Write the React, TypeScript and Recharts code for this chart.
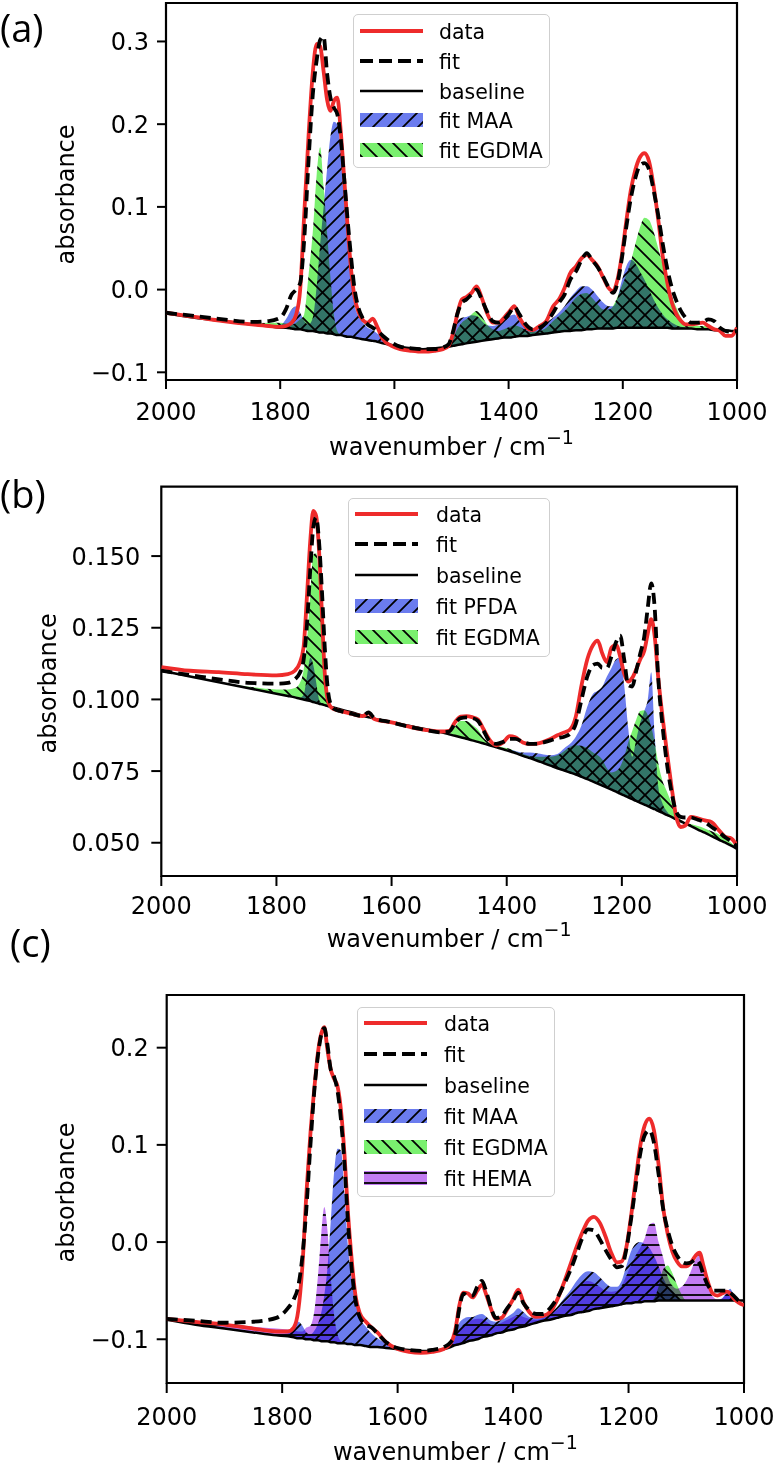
import React from "react";
import {
  ComposedChart,
  Line,
  Area,
  XAxis,
  YAxis,
  ReferenceArea,
  Legend,
} from "recharts";

// matplotlib-like look: DejaVu text, red data, dashed black fit, hatched components
const FONT = "'DejaVu Sans', Verdana, sans-serif";
const COLORS = {
  data: "#ee2b2b",
  line: "#000000",
  blue: "#6b7cee",
  green: "#7af06f",
  purple: "#c27cf2",
  legendEdge: "#cfcfcf",
};

const X_TICKS = [2000, 1800, 1600, 1400, 1200, 1000];

// ============================================================================
// PANEL (a) - MAA / EGDMA
// ============================================================================

const waveA = [
  2000, 1950, 1900, 1850, 1820, 1800, 1790, 1780, 1772, 1765,
  1758, 1750, 1743, 1736, 1730, 1724, 1718, 1712, 1706, 1700,
  1694, 1688, 1682, 1676, 1670, 1663, 1655, 1647, 1638, 1630,
  1620, 1605, 1590, 1570, 1550, 1530, 1515, 1505, 1497, 1490,
  1482, 1474, 1465, 1456, 1447, 1438, 1428, 1418, 1408, 1398,
  1390, 1381, 1370, 1358, 1346, 1334, 1322, 1312, 1302, 1292,
  1282, 1272, 1263, 1254, 1244, 1234, 1225, 1217, 1210, 1202,
  1194, 1186, 1178, 1170, 1162, 1154, 1146, 1138, 1130, 1122,
  1114, 1106, 1098, 1090, 1080, 1070, 1060, 1050, 1040, 1030,
  1020, 1010, 1000,
];
const measuredA = [
  -0.028, -0.033, -0.038, -0.042, -0.044, -0.045, -0.044, -0.040, -0.030, 0.000,
  0.090, 0.190, 0.262, 0.297, 0.294, 0.264, 0.230, 0.216, 0.228, 0.232,
  0.192, 0.135, 0.077, 0.025, -0.008, -0.027, -0.037, -0.040, -0.035, -0.045,
  -0.060, -0.068, -0.072, -0.074, -0.075, -0.074, -0.072, -0.068, -0.052, -0.030,
  -0.012, -0.009, -0.004, 0.004, -0.010, -0.028, -0.040, -0.040, -0.034, -0.026,
  -0.020, -0.034, -0.045, -0.049, -0.044, -0.038, -0.020, -0.012, 0.002, 0.020,
  0.028, 0.038, 0.042, 0.036, 0.028, 0.014, 0.002, -0.002, 0.010, 0.040,
  0.082, 0.120, 0.145, 0.160, 0.165, 0.155, 0.125, 0.085, 0.040, 0.008,
  -0.016, -0.030, -0.038, -0.042, -0.042, -0.041, -0.040, -0.044, -0.048, -0.050,
  -0.056, -0.056, -0.046,
];
const fitA = [
  -0.028, -0.032, -0.036, -0.039, -0.038, -0.034, -0.024, -0.006, 0.000, 0.008,
  0.060, 0.160, 0.235, 0.278, 0.302, 0.306, 0.262, 0.232, 0.220, 0.212,
  0.183, 0.135, 0.085, 0.040, 0.002, -0.022, -0.035, -0.042, -0.046, -0.050,
  -0.056, -0.064, -0.069, -0.071, -0.072, -0.072, -0.070, -0.066, -0.050, -0.030,
  -0.016, -0.012, -0.006, 0.000, -0.012, -0.026, -0.038, -0.040, -0.036, -0.028,
  -0.021, -0.030, -0.042, -0.048, -0.046, -0.040, -0.028, -0.016, -0.006, 0.012,
  0.022, 0.036, 0.044, 0.036, 0.027, 0.015, 0.003, -0.004, 0.006, 0.036,
  0.075, 0.110, 0.135, 0.150, 0.153, 0.145, 0.120, 0.090, 0.055, 0.025,
  0.002, -0.014, -0.026, -0.034, -0.040, -0.040, -0.039, -0.036, -0.038, -0.046,
  -0.050, -0.051, -0.050,
];
const baselineA = [
  -0.029, -0.034, -0.038, -0.042, -0.044, -0.046, -0.046, -0.047, -0.048, -0.048,
  -0.049, -0.050, -0.050, -0.051, -0.052, -0.052, -0.053, -0.053, -0.054, -0.055,
  -0.055, -0.056, -0.057, -0.057, -0.058, -0.059, -0.060, -0.061, -0.062, -0.063,
  -0.065, -0.067, -0.069, -0.071, -0.072, -0.071, -0.070, -0.069, -0.068, -0.067,
  -0.066, -0.065, -0.064, -0.063, -0.062, -0.061, -0.060, -0.059, -0.058, -0.058,
  -0.057, -0.056, -0.056, -0.055, -0.054, -0.053, -0.052, -0.051, -0.050, -0.050,
  -0.049, -0.049, -0.048, -0.048, -0.047, -0.047, -0.047, -0.047, -0.046, -0.046,
  -0.046, -0.046, -0.046, -0.046, -0.046, -0.046, -0.046, -0.046, -0.046, -0.046,
  -0.047, -0.047, -0.047, -0.047, -0.047, -0.048, -0.048, -0.048, -0.049, -0.049,
  -0.049, -0.050, -0.050,
];
const maaA = [
  -0.029, -0.034, -0.038, -0.042, -0.043, -0.043, -0.036, -0.024, -0.020, -0.028,
  -0.038, -0.042, -0.034, 0.005, 0.055, 0.100, 0.145, 0.185, 0.203, 0.200,
  0.168, 0.122, 0.060, 0.012, -0.018, -0.032, -0.040, -0.046, -0.049, -0.053,
  -0.060, -0.066, -0.069, -0.071, -0.072, -0.071, -0.070, -0.066, -0.050, -0.038,
  -0.034, -0.033, -0.031, -0.032, -0.038, -0.043, -0.044, -0.042, -0.036, -0.032,
  -0.030, -0.038, -0.046, -0.049, -0.046, -0.040, -0.034, -0.028, -0.020, -0.010,
  -0.002, 0.004, 0.004, 0.000, -0.008, -0.016, -0.020, -0.020, -0.012, 0.010,
  0.028, 0.036, 0.032, 0.022, 0.012, 0.000, -0.012, -0.022, -0.030, -0.036,
  -0.040, -0.043, -0.045, -0.046, -0.047, -0.047, -0.048, -0.048, -0.049, -0.049,
  -0.049, -0.050, -0.050,
];
const egdmaA = [
  -0.029, -0.034, -0.038, -0.041, -0.040, -0.040, -0.041, -0.042, -0.040, -0.036,
  -0.030, 0.020, 0.069, 0.140, 0.172, 0.125, 0.070, 0.015, -0.030, -0.050,
  -0.055, -0.056, -0.057, -0.057, -0.058, -0.059, -0.060, -0.061, -0.062, -0.063,
  -0.065, -0.067, -0.069, -0.071, -0.072, -0.071, -0.070, -0.067, -0.058, -0.048,
  -0.040, -0.036, -0.030, -0.026, -0.032, -0.042, -0.048, -0.050, -0.048, -0.045,
  -0.043, -0.045, -0.049, -0.051, -0.050, -0.046, -0.038, -0.032, -0.026, -0.018,
  -0.010, -0.005, -0.004, -0.010, -0.018, -0.024, -0.024, -0.020, -0.010, 0.004,
  0.018, 0.034, 0.055, 0.075, 0.087, 0.084, 0.070, 0.050, 0.030, 0.010,
  -0.008, -0.022, -0.034, -0.042, -0.044, -0.044, -0.044, -0.045, -0.046, -0.048,
  -0.049, -0.050, -0.050,
];

// ============================================================================
// PANEL (b) - PFDA / EGDMA
// ============================================================================

const waveB = [
  2000, 1950, 1900, 1850, 1800, 1780, 1768, 1760, 1753, 1747,
  1741, 1736, 1731, 1726, 1721, 1716, 1711, 1705, 1698, 1690,
  1670, 1650, 1640, 1630, 1600, 1570, 1540, 1515, 1500, 1490,
  1480, 1470, 1460, 1450, 1440, 1430, 1418, 1406, 1395, 1385,
  1372, 1360, 1348, 1336, 1324, 1312, 1300, 1290, 1280, 1270,
  1260, 1250, 1242, 1234, 1226, 1218, 1210, 1203, 1196, 1189,
  1182, 1175, 1168, 1161, 1155, 1149, 1143, 1137, 1130, 1122,
  1114, 1106, 1098, 1090, 1080, 1068, 1056, 1044, 1032, 1020,
  1010, 1000,
];
const measuredB = [
  0.1113, 0.1100, 0.1095, 0.1088, 0.1084, 0.1088, 0.1100, 0.1125, 0.1180, 0.1360,
  0.1560, 0.1658, 0.1640, 0.1520, 0.1300, 0.1090, 0.1000, 0.0972, 0.0965, 0.0960,
  0.0950, 0.0942, 0.0952, 0.0932, 0.0920, 0.0905, 0.0893, 0.0888, 0.0890, 0.0920,
  0.0940, 0.0942, 0.0938, 0.0930, 0.0895, 0.0860, 0.0840, 0.0850, 0.0872, 0.0868,
  0.0850, 0.0845, 0.0846, 0.0852, 0.0862, 0.0875, 0.0885, 0.0895, 0.0940, 0.1050,
  0.1140, 0.1190, 0.1205, 0.1160, 0.1130, 0.1180, 0.1190, 0.1150, 0.1090, 0.1062,
  0.1075, 0.1105, 0.1140, 0.1170, 0.1230, 0.1280, 0.1220, 0.1080, 0.0950, 0.0820,
  0.0700, 0.0595, 0.0555, 0.0560, 0.0590, 0.0585, 0.0578, 0.0572, 0.0545, 0.0520,
  0.0515, 0.0490,
];
const fitB = [
  0.1100, 0.1085, 0.1070, 0.1058, 0.1055, 0.1058, 0.1070, 0.1090, 0.1135, 0.1260,
  0.1460, 0.1600, 0.1635, 0.1550, 0.1380, 0.1180, 0.1040, 0.0980, 0.0965, 0.0960,
  0.0950, 0.0942, 0.0955, 0.0935, 0.0920, 0.0905, 0.0893, 0.0885, 0.0888, 0.0915,
  0.0935, 0.0937, 0.0935, 0.0925, 0.0890, 0.0855, 0.0845, 0.0852, 0.0862, 0.0862,
  0.0852, 0.0845, 0.0845, 0.0850, 0.0857, 0.0865, 0.0870, 0.0880, 0.0915, 0.1000,
  0.1080, 0.1120, 0.1125, 0.1110, 0.1110, 0.1150, 0.1200, 0.1222, 0.1140, 0.1050,
  0.1045, 0.1100, 0.1160, 0.1220, 0.1320, 0.1405, 0.1320, 0.1080, 0.0920, 0.0780,
  0.0680, 0.0610, 0.0590, 0.0588, 0.0588, 0.0580, 0.0572, 0.0555, 0.0538, 0.0518,
  0.0505, 0.0488,
];
const baselineB = [
  0.1100, 0.1080, 0.1060, 0.1040, 0.1020, 0.1012, 0.1007, 0.1003, 0.1000, 0.0997,
  0.0994, 0.0991, 0.0988, 0.0985, 0.0983, 0.0980, 0.0977, 0.0974, 0.0970, 0.0966,
  0.0955, 0.0943, 0.0938, 0.0933, 0.0920, 0.0908, 0.0896, 0.0886, 0.0878, 0.0873,
  0.0868, 0.0863, 0.0857, 0.0852, 0.0846, 0.0840, 0.0833, 0.0826, 0.0819, 0.0813,
  0.0803, 0.0795, 0.0787, 0.0778, 0.0769, 0.0760, 0.0752, 0.0745, 0.0738, 0.0730,
  0.0722, 0.0713, 0.0706, 0.0699, 0.0692, 0.0685, 0.0678, 0.0671, 0.0665, 0.0658,
  0.0652, 0.0646, 0.0639, 0.0633, 0.0628, 0.0622, 0.0617, 0.0611, 0.0605, 0.0597,
  0.0590, 0.0582, 0.0575, 0.0567, 0.0558, 0.0546, 0.0535, 0.0523, 0.0511, 0.0500,
  0.0490, 0.0478,
];
const pfdaB = [
  0.1100, 0.1080, 0.1060, 0.1040, 0.1020, 0.1012, 0.1008, 0.1005, 0.1015, 0.1080,
  0.1145, 0.1120, 0.1060, 0.1000, 0.0985, 0.0980, 0.0977, 0.0974, 0.0970, 0.0966,
  0.0955, 0.0943, 0.0938, 0.0933, 0.0920, 0.0908, 0.0896, 0.0886, 0.0878, 0.0873,
  0.0868, 0.0863, 0.0857, 0.0852, 0.0846, 0.0840, 0.0833, 0.0826, 0.0825, 0.0820,
  0.0815, 0.0815, 0.0812, 0.0808, 0.0805, 0.0810, 0.0830, 0.0845, 0.0870, 0.0910,
  0.0975, 0.1020, 0.1030, 0.1045, 0.1080, 0.1110, 0.1140, 0.1145, 0.1050, 0.0900,
  0.0800, 0.0860, 0.0920, 0.0960, 0.1000, 0.1095, 0.0880, 0.0700, 0.0640, 0.0610,
  0.0592, 0.0582, 0.0575, 0.0567, 0.0558, 0.0546, 0.0535, 0.0523, 0.0511, 0.0500,
  0.0490, 0.0478,
];
const egdmaB = [
  0.1100, 0.1080, 0.1060, 0.1045, 0.1035, 0.1035, 0.1040, 0.1055, 0.1100, 0.1200,
  0.1370, 0.1505, 0.1510, 0.1420, 0.1270, 0.1100, 0.1010, 0.0975, 0.0970, 0.0966,
  0.0955, 0.0943, 0.0938, 0.0933, 0.0920, 0.0908, 0.0896, 0.0886, 0.0880, 0.0905,
  0.0925, 0.0925, 0.0912, 0.0895, 0.0865, 0.0848, 0.0840, 0.0832, 0.0828, 0.0818,
  0.0810, 0.0803, 0.0800, 0.0800, 0.0800, 0.0805, 0.0820, 0.0835, 0.0840, 0.0838,
  0.0830, 0.0815, 0.0805, 0.0790, 0.0760, 0.0745, 0.0750, 0.0765, 0.0800, 0.0850,
  0.0890, 0.0930, 0.0960, 0.0962, 0.0945, 0.0905, 0.0850, 0.0780, 0.0720, 0.0680,
  0.0640, 0.0600, 0.0580, 0.0570, 0.0565, 0.0558, 0.0550, 0.0540, 0.0530, 0.0512,
  0.0500, 0.0480,
];

// ============================================================================
// PANEL (c) - MAA / EGDMA / HEMA
// ============================================================================

const waveC = [
  2000, 1950, 1900, 1850, 1810, 1790, 1780, 1772, 1765, 1758,
  1751, 1744, 1738, 1732, 1727, 1722, 1716, 1710, 1704, 1698,
  1692, 1686, 1680, 1673, 1665, 1655, 1645, 1635, 1620, 1600,
  1580, 1560, 1540, 1520, 1508, 1500, 1493, 1486, 1478, 1470,
  1462, 1454, 1446, 1438, 1430, 1420, 1410, 1400, 1391, 1382,
  1372, 1360, 1348, 1336, 1324, 1312, 1300, 1290, 1280, 1270,
  1260, 1250, 1240, 1230, 1220, 1212, 1204, 1196, 1188, 1180,
  1172, 1164, 1156, 1148, 1140, 1132, 1124, 1116, 1108, 1100,
  1092, 1084, 1077, 1070, 1062, 1054, 1046, 1038, 1030, 1024,
  1018, 1010, 1000,
];
const measuredC = [
  -0.079, -0.082, -0.085, -0.089, -0.092, -0.092, -0.088, -0.070, -0.025, 0.050,
  0.112, 0.160, 0.195, 0.215, 0.221, 0.200, 0.178, 0.168, 0.160, 0.135,
  0.090, 0.030, -0.015, -0.055, -0.074, -0.082, -0.088, -0.093, -0.103, -0.110,
  -0.113, -0.114, -0.113, -0.110, -0.104, -0.090, -0.065, -0.052, -0.053, -0.057,
  -0.050, -0.044, -0.055, -0.069, -0.079, -0.078, -0.069, -0.059, -0.049, -0.062,
  -0.072, -0.077, -0.076, -0.072, -0.060, -0.042, -0.022, -0.005, 0.010, 0.022,
  0.026, 0.020, 0.006, -0.011, -0.021, -0.020, -0.006, 0.025, 0.062, 0.098,
  0.120, 0.127, 0.115, 0.080, 0.035, 0.008, -0.010, -0.020, -0.025, -0.025,
  -0.021, -0.014, -0.011, -0.025, -0.042, -0.053, -0.055, -0.053, -0.051, -0.053,
  -0.058, -0.062, -0.065,
];
const fitC = [
  -0.079, -0.081, -0.083, -0.082, -0.078, -0.068, -0.059, -0.045, -0.015, 0.035,
  0.100, 0.158, 0.192, 0.214, 0.220, 0.205, 0.178, 0.170, 0.155, 0.125,
  0.080, 0.020, -0.025, -0.060, -0.078, -0.085, -0.088, -0.094, -0.103, -0.109,
  -0.111, -0.112, -0.111, -0.108, -0.103, -0.094, -0.068, -0.053, -0.055, -0.055,
  -0.046, -0.040, -0.052, -0.068, -0.078, -0.076, -0.068, -0.060, -0.052, -0.063,
  -0.070, -0.074, -0.074, -0.068, -0.058, -0.044, -0.028, -0.012, 0.004, 0.013,
  0.012, 0.003, -0.008, -0.018, -0.026, -0.025, -0.008, 0.022, 0.056, 0.090,
  0.110, 0.115, 0.102, 0.070, 0.034, 0.012, -0.004, -0.014, -0.020, -0.022,
  -0.021, -0.018, -0.022, -0.034, -0.045, -0.050, -0.050, -0.050, -0.050, -0.052,
  -0.055, -0.060, -0.063,
];
const baselineC = [
  -0.080, -0.085, -0.089, -0.093, -0.096, -0.097, -0.098, -0.099, -0.099, -0.100,
  -0.100, -0.101, -0.101, -0.102, -0.102, -0.102, -0.103, -0.103, -0.104, -0.104,
  -0.104, -0.105, -0.105, -0.106, -0.106, -0.107, -0.108, -0.108, -0.109, -0.110,
  -0.111, -0.112, -0.112, -0.110, -0.108, -0.106, -0.105, -0.104, -0.102, -0.101,
  -0.100, -0.098, -0.097, -0.096, -0.094, -0.093, -0.091, -0.090, -0.088, -0.087,
  -0.085, -0.083, -0.081, -0.080, -0.078, -0.076, -0.075, -0.073, -0.072, -0.071,
  -0.069, -0.068, -0.067, -0.066, -0.065, -0.064, -0.063, -0.063, -0.062, -0.062,
  -0.061, -0.061, -0.061, -0.060, -0.060, -0.060, -0.060, -0.060, -0.060, -0.060,
  -0.060, -0.060, -0.060, -0.060, -0.060, -0.060, -0.060, -0.060, -0.060, -0.060,
  -0.060, -0.060, -0.060,
];
const maaC = [
  -0.080, -0.085, -0.089, -0.093, -0.095, -0.094, -0.088, -0.082, -0.086, -0.093,
  -0.095, -0.091, -0.084, -0.072, -0.055, -0.030, 0.020, 0.072, 0.096, 0.094,
  0.050, -0.005, -0.035, -0.062, -0.078, -0.087, -0.094, -0.099, -0.104, -0.109,
  -0.111, -0.112, -0.112, -0.110, -0.104, -0.092, -0.083, -0.079, -0.077, -0.077,
  -0.075, -0.074, -0.077, -0.081, -0.082, -0.080, -0.077, -0.073, -0.068, -0.072,
  -0.077, -0.078, -0.076, -0.073, -0.067, -0.058, -0.049, -0.040, -0.033, -0.030,
  -0.031, -0.036, -0.042, -0.046, -0.046, -0.040, -0.025, -0.010, -0.002, 0.000,
  -0.002, -0.006, -0.014, -0.025, -0.037, -0.046, -0.050, -0.056, -0.060, -0.060,
  -0.060, -0.060, -0.060, -0.060, -0.060, -0.060, -0.060, -0.058, -0.052, -0.048,
  -0.054, -0.060, -0.060,
];
const egdmaC = [
  -0.080, -0.085, -0.089, -0.093, -0.096, -0.097, -0.098, -0.099, -0.099, -0.100,
  -0.100, -0.101, -0.101, -0.102, -0.102, -0.102, -0.103, -0.103, -0.104, -0.104,
  -0.104, -0.105, -0.105, -0.106, -0.106, -0.107, -0.108, -0.108, -0.109, -0.110,
  -0.111, -0.112, -0.112, -0.110, -0.108, -0.106, -0.105, -0.104, -0.102, -0.101,
  -0.100, -0.098, -0.097, -0.096, -0.094, -0.093, -0.091, -0.090, -0.088, -0.087,
  -0.085, -0.083, -0.081, -0.080, -0.078, -0.076, -0.075, -0.073, -0.072, -0.071,
  -0.069, -0.068, -0.067, -0.066, -0.065, -0.064, -0.063, -0.063, -0.062, -0.062,
  -0.061, -0.061, -0.058, -0.046, -0.028, -0.024, -0.032, -0.044, -0.054, -0.060,
  -0.060, -0.060, -0.060, -0.060, -0.060, -0.060, -0.060, -0.060, -0.060, -0.060,
  -0.060, -0.060, -0.060,
];
const hemaC = [
  -0.080, -0.083, -0.084, -0.087, -0.089, -0.090, -0.091, -0.092, -0.092, -0.088,
  -0.086, -0.070, -0.035, 0.010, 0.036, 0.015, -0.035, -0.075, -0.095, -0.102,
  -0.104, -0.105, -0.105, -0.106, -0.106, -0.107, -0.108, -0.108, -0.109, -0.110,
  -0.111, -0.112, -0.112, -0.110, -0.106, -0.098, -0.090, -0.085, -0.082, -0.080,
  -0.079, -0.079, -0.082, -0.085, -0.085, -0.083, -0.080, -0.077, -0.075, -0.077,
  -0.079, -0.080, -0.078, -0.075, -0.070, -0.063, -0.056, -0.048, -0.042, -0.040,
  -0.042, -0.046, -0.050, -0.051, -0.050, -0.045, -0.035, -0.024, -0.014, -0.006,
  0.004, 0.018, 0.020, 0.000, -0.016, -0.036, -0.045, -0.048, -0.046, -0.040,
  -0.030, -0.018, -0.013, -0.025, -0.045, -0.056, -0.059, -0.058, -0.053, -0.050,
  -0.056, -0.060, -0.060,
];

// ============================================================================
// PANEL SETUP
// ============================================================================

type Hatch = "/" | "\\" | "-";

interface FillSpec {
  key: string;
  label: string;
  color: string;
  hatch: Hatch;
}

interface LegendSpec {
  left: number;
  top: number;
  width: number;
  height: number;
  firstRow: number;
  rowGap: number;
  handleX: number;
  textX: number;
}

interface PanelSpec {
  id: string;
  top: number;
  height: number;
  plotTop: number;
  plotRight: number;
  yAxisWidth: number;
  xAxisHeight: number;
  yDomain: [number, number];
  yTicks: number[];
  yDecimals: number;
  tickSize: number;
  xTickMargin: number;
  yTickMargin: number;
  yTitleX: number;
  yTitleShift: number;
  xTitleDrop: number;
  rows: Record<string, number>[];
  fills: FillSpec[];
  legend: LegendSpec;
}

const buildRows = (wave: number[], cols: Record<string, number[]>) =>
  wave.map((w, i) => {
    const row: Record<string, number> = { w };
    Object.keys(cols).forEach((k) => {
      row[k] = cols[k][i];
    });
    return row;
  });

const PANELS: PanelSpec[] = [
  {
    id: "pa",
    top: 0,
    height: 470,
    plotTop: 3,
    plotRight: 737,
    yAxisWidth: 166,
    xAxisHeight: 90,
    yDomain: [-0.1093, 0.3465],
    yTicks: [-0.1, 0, 0.1, 0.2, 0.3],
    yDecimals: 1,
    tickSize: 9,
    xTickMargin: 14,
    yTickMargin: 8,
    yTitleX: 66,
    yTitleShift: 3,
    xTitleDrop: 75,
    rows: buildRows(waveA, {
      data: measuredA,
      fit: fitA,
      base: baselineA,
      maa: maaA,
      egdma: egdmaA,
    }),
    fills: [
      { key: "maa", label: "fit MAA", color: COLORS.blue, hatch: "/" },
      { key: "egdma", label: "fit EGDMA", color: COLORS.green, hatch: "\\" },
    ],
    legend: { left: 353, top: 14, width: 197, height: 154, firstRow: 16, rowGap: 29.8, handleX: 6, textX: 85 },
  },
  {
    id: "pb",
    top: 480,
    height: 484,
    plotTop: 486.7,
    plotRight: 737,
    yAxisWidth: 161.3,
    xAxisHeight: 88,
    yDomain: [0.0384, 0.1742],
    yTicks: [0.05, 0.075, 0.1, 0.125, 0.15],
    yDecimals: 3,
    tickSize: 10,
    xTickMargin: 11,
    yTickMargin: 11,
    yTitleX: 48,
    yTitleShift: 2,
    xTitleDrop: 70.7,
    rows: buildRows(waveB, {
      data: measuredB,
      fit: fitB,
      base: baselineB,
      pfda: pfdaB,
      egdma: egdmaB,
    }),
    fills: [
      { key: "pfda", label: "fit PFDA", color: COLORS.blue, hatch: "/" },
      { key: "egdma", label: "fit EGDMA", color: COLORS.green, hatch: "\\" },
    ],
    legend: { left: 348, top: 498, width: 202, height: 159, firstRow: 14.5, rowGap: 30.85, handleX: 6, textX: 87 },
  },
  {
    id: "pc",
    top: 950,
    height: 516,
    plotTop: 995,
    plotRight: 744,
    yAxisWidth: 166.7,
    xAxisHeight: 83,
    yDomain: [-0.145, 0.2542],
    yTicks: [-0.1, 0, 0.1, 0.2],
    yDecimals: 1,
    tickSize: 10,
    xTickMargin: 15,
    yTickMargin: 8,
    yTitleX: 66,
    yTitleShift: 3.5,
    xTitleDrop: 77,
    rows: buildRows(waveC, {
      data: measuredC,
      fit: fitC,
      base: baselineC,
      maa: maaC,
      egdma: egdmaC,
      hema: hemaC,
    }),
    fills: [
      { key: "maa", label: "fit MAA", color: COLORS.blue, hatch: "/" },
      { key: "egdma", label: "fit EGDMA", color: COLORS.green, hatch: "\\" },
      { key: "hema", label: "fit HEMA", color: COLORS.purple, hatch: "-" },
    ],
    legend: { left: 357, top: 1007, width: 198, height: 190, firstRow: 15, rowGap: 30.9, handleX: 6, textX: 86 },
  },
];

const LETTERS = [
  { text: "(a)", x: 0, y: 42 },
  { text: "(b)", x: 0, y: 508 },
  { text: "(c)", x: 10, y: 957 },
];

// ============================================================================
// PIECES
// ============================================================================

const hatchPath = (hatch: Hatch) => {
  if (hatch === "/") return "M-2,2 L2,-2 M0,15 L15,0 M13,17 L17,13";
  if (hatch === "\\") return "M-2,13 L2,17 M0,0 L15,15 M13,-2 L17,2";
  return "M0,5 H10";
};

const formatY = (decimals: number) => (v: number) =>
  (v < -1e-9 ? "\u2212" : "") + Math.abs(v).toFixed(decimals);

const LegendBox: React.FC<{ spec: PanelSpec }> = ({ spec }) => {
  const lg = spec.legend;
  const items = [
    { label: "data", kind: "data" },
    { label: "fit", kind: "fit" },
    { label: "baseline", kind: "base" },
    ...spec.fills.map((f) => ({ label: f.label, kind: f.key })),
  ];
  return (
    <div
      style={{
        position: "relative",
        width: lg.width,
        height: lg.height,
        boxSizing: "border-box",
        border: `1px solid ${COLORS.legendEdge}`,
        borderRadius: 5,
        background: "rgba(255,255,255,0.85)",
        fontFamily: FONT,
        fontSize: 20.5,
        color: "#000",
      }}
    >
      {items.map((item, i) => {
        const cy = lg.firstRow + i * lg.rowGap;
        let handle: React.ReactNode;
        if (item.kind === "data") {
          handle = <line x1={0} x2={63} y1={10} y2={10} stroke={COLORS.data} strokeWidth={4} />;
        } else if (item.kind === "fit") {
          handle = <line x1={0} x2={63} y1={10} y2={10} stroke="#000" strokeWidth={4} strokeDasharray="13 6" />;
        } else if (item.kind === "base") {
          handle = <line x1={0} x2={63} y1={10} y2={10} stroke="#000" strokeWidth={2.5} />;
        } else {
          handle = <rect x={0} y={3} width={63} height={14} fill={`url(#${spec.id}-${item.kind})`} />;
        }
        return (
          <React.Fragment key={item.label}>
            <svg
              width={63}
              height={20}
              style={{ position: "absolute", left: lg.handleX, top: cy - 10 }}
            >
              {handle}
            </svg>
            <span
              style={{
                position: "absolute",
                left: lg.textX,
                top: cy - 11,
                lineHeight: "24px",
                whiteSpace: "nowrap",
              }}
            >
              {item.label}
            </span>
          </React.Fragment>
        );
      })}
    </div>
  );
};

const SpectrumPanel: React.FC<{ spec: PanelSpec }> = ({ spec }) => {
  const tickStyle = { fontSize: 24, fill: "#000", fontFamily: FONT };
  const lg = spec.legend;

  return (
    <div style={{ position: "absolute", left: 0, top: spec.top }}>
      <ComposedChart
        width={777}
        height={spec.height}
        data={spec.rows}
        margin={{ top: spec.plotTop - spec.top, right: 777 - spec.plotRight, left: 0, bottom: 0 }}
      >
        <defs>
          {spec.fills.map((f) => {
            const size = f.hatch === "-" ? 10 : 15;
            return (
              <pattern
                key={f.key}
                id={`${spec.id}-${f.key}`}
                patternUnits="userSpaceOnUse"
                width={size}
                height={size}
              >
                <rect width={size} height={size} fill={f.color} />
                <path d={hatchPath(f.hatch)} stroke="#000" strokeWidth={1.8} />
              </pattern>
            );
          })}
        </defs>
        <XAxis
          dataKey="w"
          type="number"
          domain={[1000, 2000]}
          reversed
          allowDataOverflow
          ticks={X_TICKS}
          interval={0}
          height={spec.xAxisHeight}
          tickSize={spec.tickSize}
          tickMargin={spec.xTickMargin}
          axisLine={false}
          tickLine={{ stroke: "#000", strokeWidth: 2 }}
          tick={tickStyle}
          label={{
            content: (props: any) => {
              const vb = props.viewBox;
              return (
                <text
                  x={vb.x + vb.width / 2}
                  y={vb.y + spec.xTitleDrop}
                  textAnchor="middle"
                  fontSize={24}
                  fontFamily={FONT}
                  fill="#000"
                >
                  wavenumber / cm
                  <tspan dy={-11} fontSize={19}>
                    {"\u22121"}
                  </tspan>
                </text>
              );
            },
          }}
        />
        <YAxis
          type="number"
          domain={spec.yDomain}
          allowDataOverflow
          ticks={spec.yTicks}
          interval={0}
          width={spec.yAxisWidth}
          tickSize={spec.tickSize}
          tickMargin={spec.yTickMargin}
          tickFormatter={formatY(spec.yDecimals)}
          axisLine={false}
          tickLine={{ stroke: "#000", strokeWidth: 2 }}
          tick={tickStyle}
          label={{
            content: (props: any) => {
              const vb = props.viewBox;
              const cy = vb.y + vb.height / 2 + spec.yTitleShift;
              return (
                <text
                  x={spec.yTitleX}
                  y={cy}
                  transform={`rotate(-90, ${spec.yTitleX}, ${cy})`}
                  textAnchor="middle"
                  dominantBaseline="central"
                  fontSize={24}
                  fontFamily={FONT}
                  fill="#000"
                >
                  absorbance
                </text>
              );
            },
          }}
        />
        {spec.fills.map((f) => (
          <Area
            key={f.key}
            type="monotone"
            dataKey={(d: Record<string, number>) => [d.base, d[f.key]]}
            stroke="none"
            fill={`url(#${spec.id}-${f.key})`}
            fillOpacity={1}
            className="hatch-fill"
            dot={false}
            activeDot={false}
            isAnimationActive={false}
          />
        ))}
        <Line
          type="monotone"
          dataKey="base"
          stroke={COLORS.line}
          strokeWidth={2.5}
          dot={false}
          activeDot={false}
          isAnimationActive={false}
        />
        <Line
          type="monotone"
          dataKey="data"
          stroke={COLORS.data}
          strokeWidth={3.8}
          dot={false}
          activeDot={false}
          isAnimationActive={false}
        />
        <Line
          type="monotone"
          dataKey="fit"
          stroke={COLORS.line}
          strokeWidth={3.8}
          strokeDasharray="11 6"
          dot={false}
          activeDot={false}
          isAnimationActive={false}
        />
        <ReferenceArea
          x1={1000}
          x2={2000}
          y1={spec.yDomain[0]}
          y2={spec.yDomain[1]}
          fill="none"
          stroke="#000"
          strokeWidth={2.2}
        />
        <Legend
          layout="vertical"
          align="center"
          verticalAlign="middle"
          wrapperStyle={{
            left: lg.left,
            top: lg.top - spec.top,
            width: lg.width,
            height: lg.height,
          }}
          content={() => <LegendBox spec={spec} />}
        />
      </ComposedChart>
    </div>
  );
};

const App: React.FC = () => (
  <div
    style={{
      position: "absolute",
      left: 0,
      top: 0,
      width: 777,
      height: 1466,
      background: "#fff",
      overflow: "hidden",
    }}
  >
    <style>{`.hatch-fill { mix-blend-mode: multiply; }`}</style>
    {PANELS.map((p) => (
      <SpectrumPanel key={p.id} spec={p} />
    ))}
    <svg
      width={777}
      height={1466}
      style={{ position: "absolute", left: 0, top: 0, pointerEvents: "none" }}
    >
      {LETTERS.map((l) => (
        <text key={l.text} x={l.x} y={l.y} fontSize={38} fontFamily="'Open Sans', sans-serif" fill="#000">
          {l.text}
        </text>
      ))}
    </svg>
  </div>
);

export default App;
